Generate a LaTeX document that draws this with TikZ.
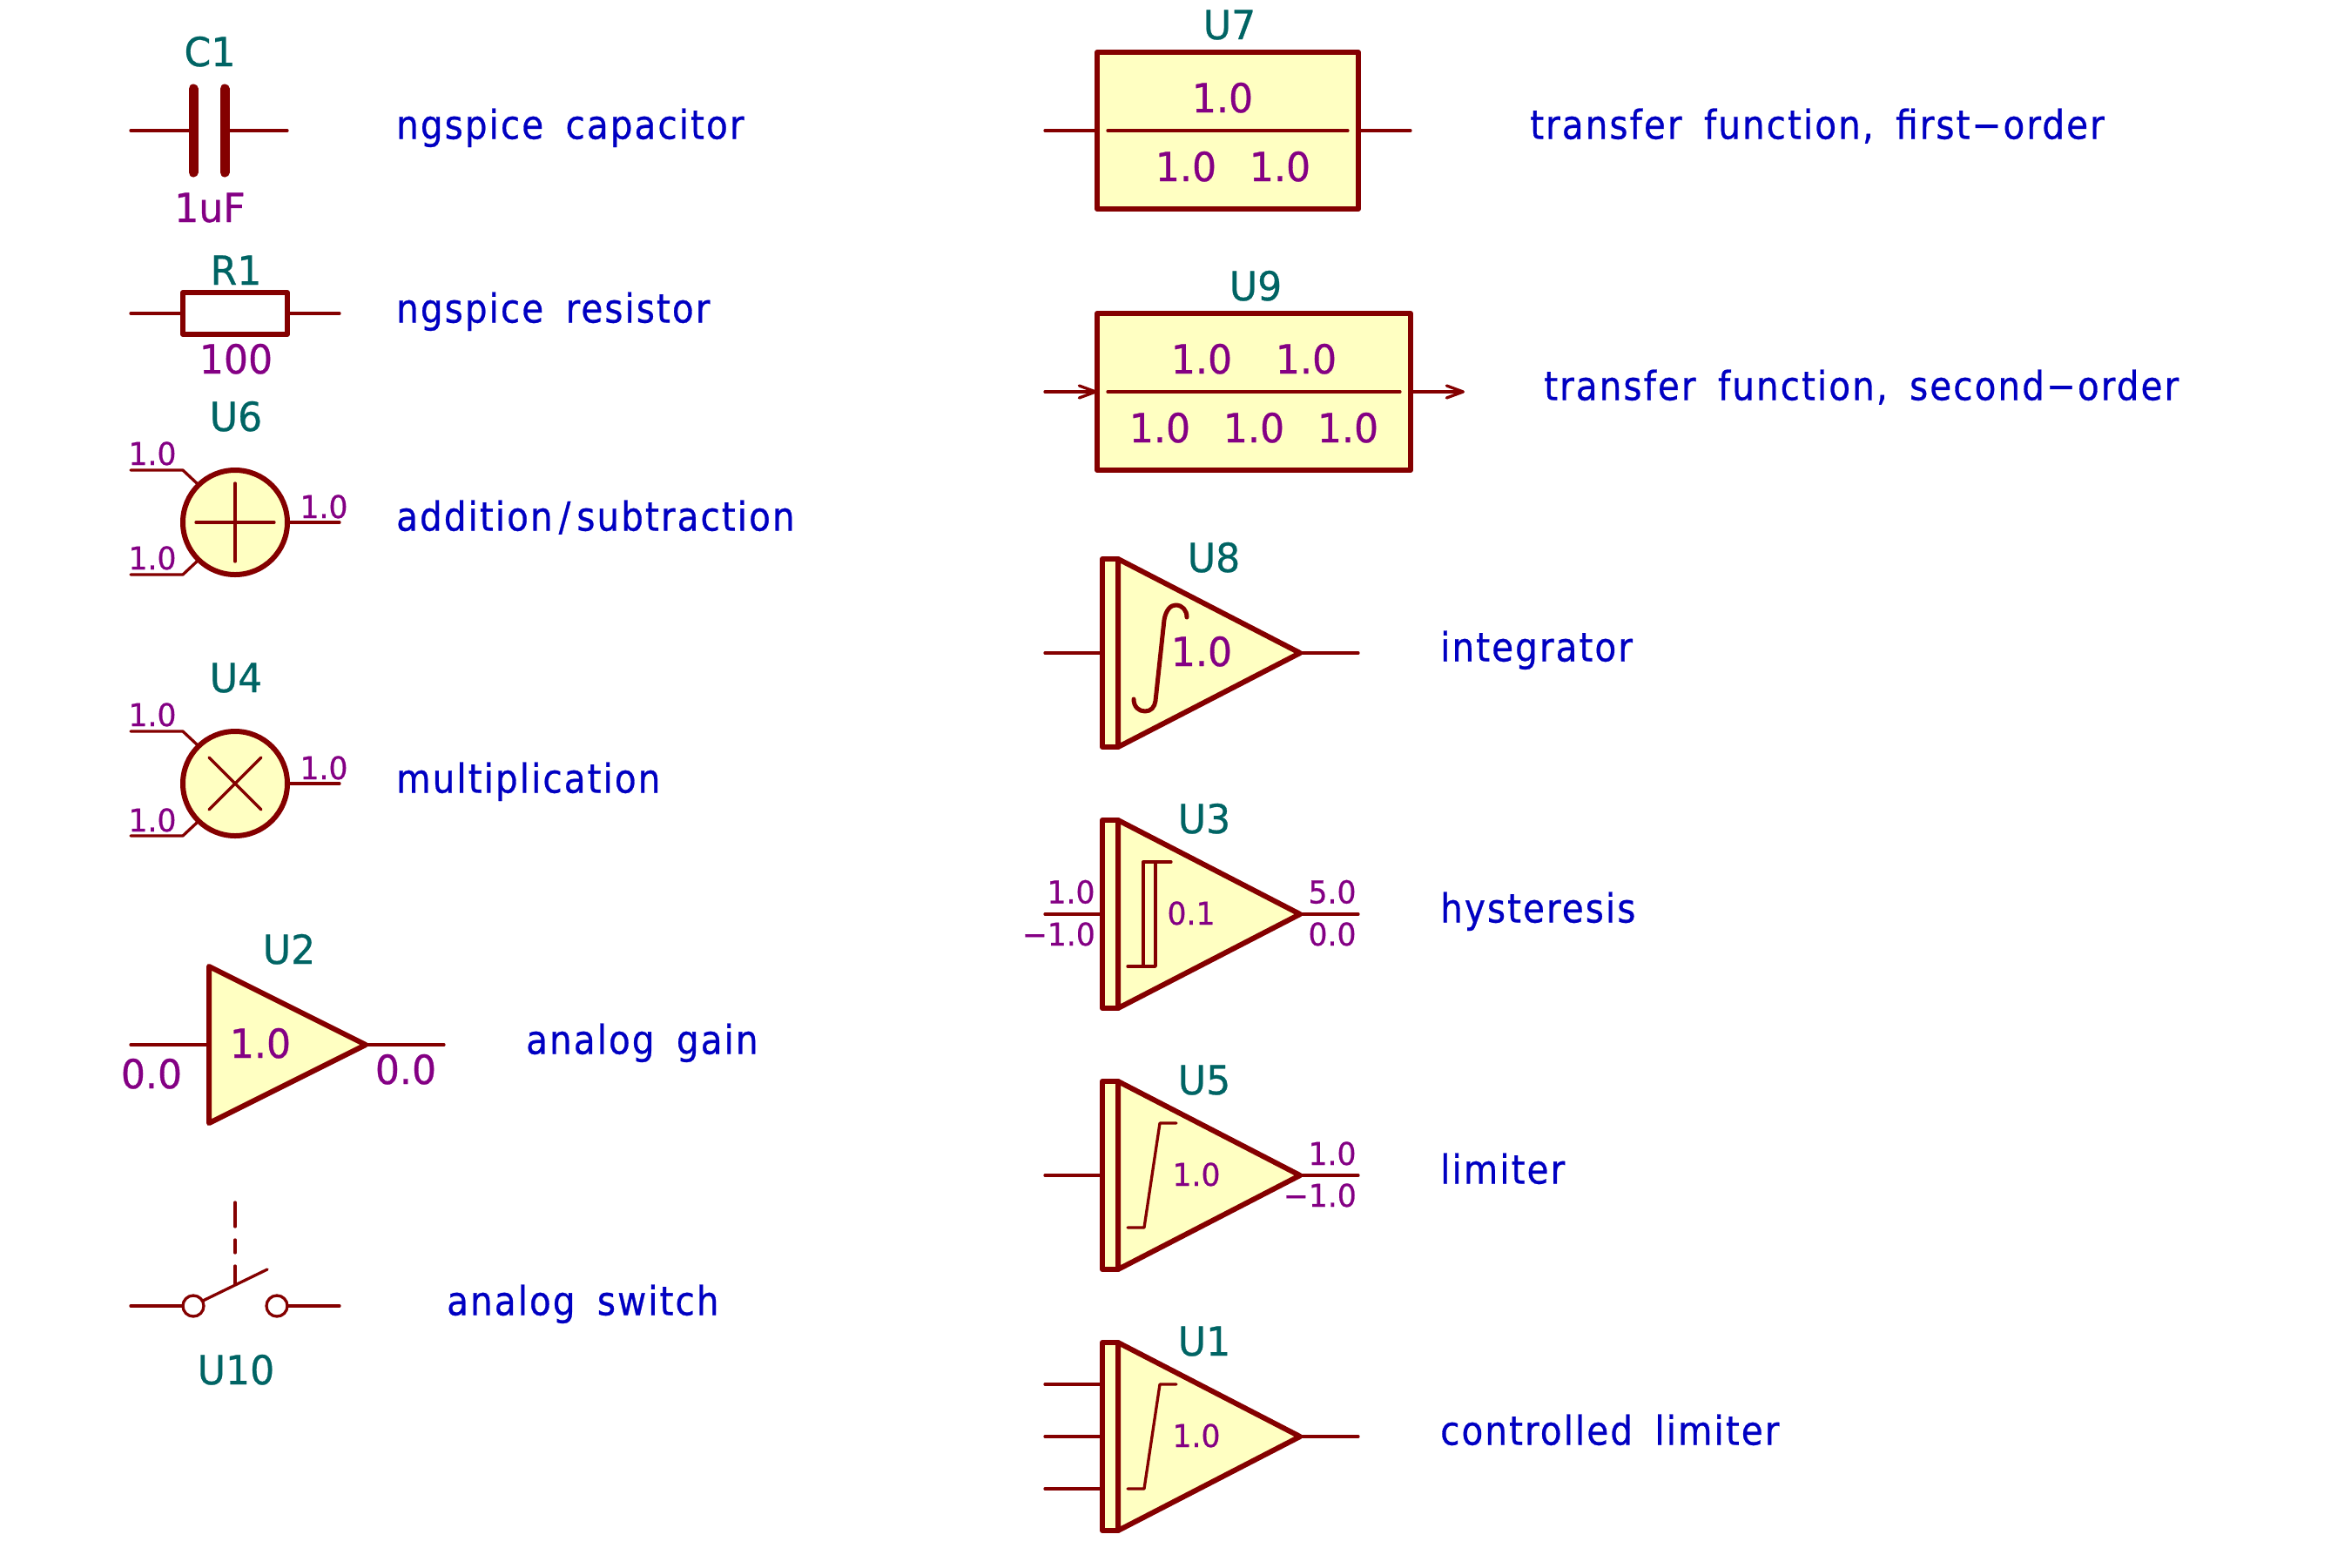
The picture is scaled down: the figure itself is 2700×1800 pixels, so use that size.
\documentclass[tikz,border=0pt]{standalone}
\usepackage{fontspec}
\newfontfamily\fdig[FakeStretch=0.96,FakeBold=0.6]{DejaVu Sans}
\newfontfamily\ftxt[FakeStretch=0.88,WordSpace=1.7,LetterSpace=4.5,FakeBold=0.6]{DejaVu Sans}
\newcommand{\fbig}{\fdig\fontsize{46}{50}\selectfont}
\newcommand{\fsm}{\fdig\fontsize{36}{40}\selectfont}
\newcommand{\flab}{\ftxt\fontsize{46}{50}\selectfont}
\definecolor{kwire}{HTML}{840000}
\definecolor{kfill}{HTML}{FFFFC2}
\definecolor{kref}{HTML}{006464}
\definecolor{kval}{HTML}{840084}
\definecolor{klab}{HTML}{0000C2}
\usetikzlibrary{arrows.meta}
\tikzset{
  wire/.style={draw=kwire,line width=3.3pt,line cap=round,line join=round},
  body/.style={draw=kwire,line width=6pt,line cap=round,line join=round},
  bodyf/.style={body,fill=kfill},
  glyph/.style={draw=kwire,line width=3.3pt,line cap=round,line join=round},
  refd/.style={inner sep=0pt,anchor=base,text=kref,font=\fbig},
  valb/.style={inner sep=0pt,anchor=base,text=kval,font=\fbig},
  vals/.style={inner sep=0pt,anchor=base,text=kval,font=\fsm},
  lbl/.style={inner sep=0pt,anchor=base west,text=klab,font=\flab,yshift=-1.5pt},
  chev/.style={-{Straight Barb[length=19pt,width=14pt,line width=3.3pt,round]}}
}
% triangle block with narrow input bar; #1 = centre y
\newcommand{\kblock}[1]{%
  \path[bodyf] (1266,#1-108) rectangle (1284,#1+108);
  \path[bodyf] (1284,#1-108) -- (1493,#1) -- (1284,#1+108) -- cycle;
  \draw[wire] (1493,#1) -- (1560,#1);
}
% limiter curve; #1 = centre y
\newcommand{\klimit}[1]{%
  \draw[glyph] (1295,#1+60) -- (1314,#1+60) -- (1332,#1-60) -- (1351,#1-60);
}
% circle element; #1 = centre y
\newcommand{\kround}[1]{%
  \path[bodyf] (270,#1) circle (60);
  \draw[wire] (150,#1-60) -- (210,#1-60) -- (226,#1-45);
  \draw[wire] (150,#1+60) -- (210,#1+60) -- (226,#1+45);
  \draw[wire] (330,#1) -- (390,#1);
}
\begin{document}
\begin{tikzpicture}[x=1pt,y=-1pt]
\useasboundingbox (0,0) rectangle (2700,1800);
\fill[white] (0,0) rectangle (2700,1800);

% C1
\draw[wire] (150,150) -- (222,150);
\draw[wire] (258,150) -- (330,150);
\draw[draw=kwire,line width=11pt,line cap=round] (222,102) -- (222,198);
\draw[draw=kwire,line width=11pt,line cap=round] (258,102) -- (258,198);
\node[refd] (c1ref) at (241,76) {C1};
\node[valb] (c1val) at (241,255) {1uF};
\node[lbl] (lcap) at (455,158) {ngspice capacitor};

% R1
\draw[wire] (150,360) -- (210,360);
\draw[wire] (330,360) -- (390,360);
\path[body] (210,336) rectangle (330,384);
\node[refd] (r1ref) at (271,327) {R1};
\node[valb] (r1val) at (271,429) {100};
\node[lbl] (lres) at (455,369) {ngspice resistor};

% U6
\kround{600}
\draw[wire] (270,555) -- (270,645);
\draw[wire] (225,600) -- (315,600);
\node[refd] (u6ref) at (271,495) {U6};
\node[vals] (u6a) at (175,534) {1.0};
\node[vals] (u6b) at (175,654) {1.0};
\node[vals] (u6c) at (372,595) {1.0};
\node[lbl] (ladd) at (455,608) {addition\kern7pt/\kern7pt subtraction};

% U4
\kround{900}
\draw[wire] (240,870) -- (300,930);
\draw[wire] (240,930) -- (300,870);
\node[refd] (u4ref) at (271,795) {U4};
\node[vals] (u4a) at (175,834) {1.0};
\node[vals] (u4b) at (175,955) {1.0};
\node[vals] (u4c) at (372,895) {1.0};
\node[lbl] (lmul) at (455,909) {multiplication};

% U2
\draw[wire] (150,1200) -- (240,1200);
\draw[wire] (420,1200) -- (510,1200);
\path[bodyf] (240,1110) -- (420,1200) -- (240,1290) -- cycle;
\node[refd] (u2ref) at (332,1107) {U2};
\node[valb] (u2v) at (299,1215) {1.0};
\node[valb] (u2a) at (174,1250) {0.0};
\node[valb] (u2b) at (466,1245) {0.0};
\node[lbl] (lgain) at (604,1209) {analog gain};

% U10
\draw[wire] (150,1500) -- (210,1500);
\draw[wire] (330,1500) -- (390,1500);
\draw[wire] (222,1500) circle (12);
\draw[wire] (318,1500) circle (12);
\draw[wire] (233,1494) -- (307,1458);
\draw[wire,dash pattern=on 28pt off 15pt on 15pt off 15pt on 21pt] (270,1381) -- (270,1476);
\node[refd] (u10ref) at (271,1590) {U10};
\node[lbl] (lsw) at (513,1509) {analog switch};

% U7
\draw[wire] (1200,150) -- (1260,150);
\draw[wire] (1560,150) -- (1620,150);
\path[bodyf] (1260,60) rectangle (1560,240);
\draw[wire] (1272,150) -- (1548,150);
\node[refd] (u7ref) at (1412,45) {U7};
\node[valb] (u7n) at (1404,129) {1.0};
\node[valb] (u7d) at (1362,208) {1.0};
\node[valb] (u7e) at (1470,208) {1.0};
\node[lbl] (ltf1) at (1757,158) {transfer function, first−order};

% U9
\draw[wire,chev] (1200,450) -- (1260,450);
\draw[wire,chev] (1620,450) -- (1682,450);
\path[bodyf] (1260,360) rectangle (1620,540);
\draw[wire] (1272,450) -- (1608,450);
\node[refd] (u9ref) at (1442,345) {U9};
\node[valb] (u9n) at (1380,429) {1.0};
\node[valb] (u9m) at (1500,429) {1.0};
\node[valb] (u9d) at (1332,508) {1.0};
\node[valb] (u9e) at (1440,508) {1.0};
\node[valb] (u9f) at (1548,508) {1.0};
\node[lbl] (ltf2) at (1773,458) {transfer function, second−order};

% U8
\draw[wire] (1200,750) -- (1266,750);
\kblock{750}
\draw[draw=kwire,line width=5pt,line cap=round,line join=round]
  (1302,803) .. controls (1302,812) and (1308,817) .. (1315,817)
  .. controls (1322,817) and (1326,812) .. (1327,805) -- (1337,712)
  .. controls (1339,700) and (1345,695) .. (1350,695)
  .. controls (1358,695) and (1363,701) .. (1363,709);
\node[refd] (u8ref) at (1394,657) {U8};
\node[valb] (u8v) at (1380,765) {1.0};
\node[lbl] (lint) at (1654,758) {integrator};

% U3
\draw[wire] (1200,1050) -- (1266,1050);
\kblock{1050}
\draw[glyph] (1295,1110) -- (1327,1110) -- (1327,990);
\draw[glyph] (1313,1110) -- (1313,990) -- (1345,990);
\node[refd] (u3ref) at (1383,957) {U3};
\node[vals] (u3v) at (1368,1062) {0.1};
\node[vals] (u3a) at (1230,1037.5) {1.0};
\node[vals,anchor=base east] (u3b) at (1258,1086) {−1.0};
\node[vals] (u3c) at (1530,1037.5) {5.0};
\node[vals] (u3d) at (1530,1086) {0.0};
\node[lbl] (lhys) at (1654,1058) {hysteresis};

% U5
\draw[wire] (1200,1350) -- (1266,1350);
\kblock{1350}
\klimit{1350}
\node[refd] (u5ref) at (1383,1257) {U5};
\node[vals] (u5v) at (1374,1362) {1.0};
\node[vals] (u5a) at (1530,1338) {1.0};
\node[vals,anchor=base east] (u5b) at (1558,1386) {−1.0};
\node[lbl] (llim) at (1654,1358) {limiter};

% U1
\draw[wire] (1200,1590) -- (1266,1590);
\draw[wire] (1200,1650) -- (1266,1650);
\draw[wire] (1200,1710) -- (1266,1710);
\kblock{1650}
\klimit{1650}
\node[refd] (u1ref) at (1383,1557) {U1};
\node[vals] (u1v) at (1374,1662) {1.0};
\node[lbl] (lcl) at (1654,1658) {controlled limiter};
\end{tikzpicture}
\end{document}
